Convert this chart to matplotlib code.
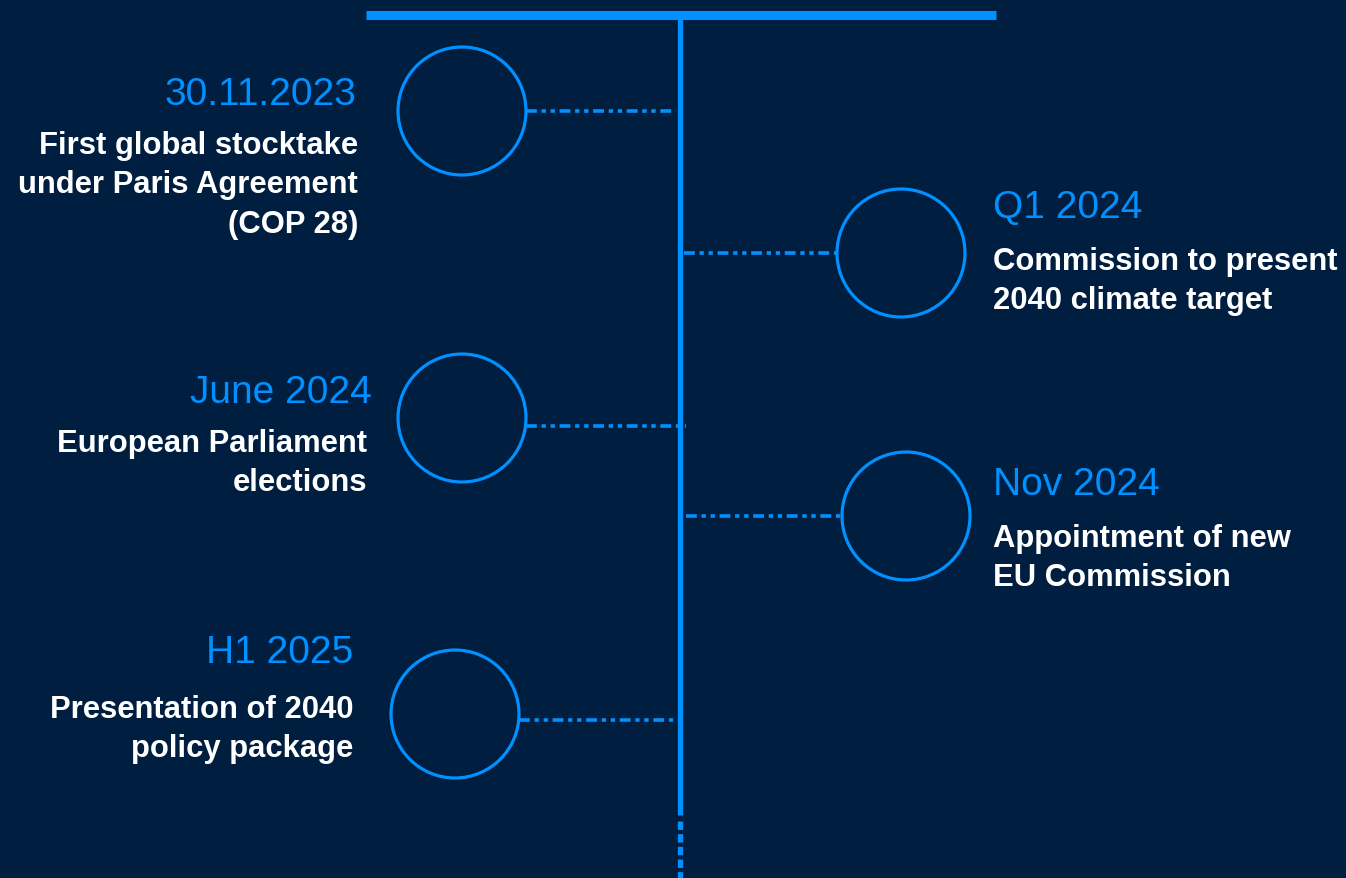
import matplotlib
matplotlib.use("Agg")
import matplotlib.pyplot as plt
from matplotlib.patches import Circle

# ---- data ----
dates = ["30.11.2023", "Q1 2024", "June 2024", "Nov 2024", "H1 2025"]
descriptions = [
    "First global stocktake\nunder Paris Agreement\n(COP 28)",
    "Commission to present\n2040 climate target",
    "European Parliament\nelections",
    "Appointment of new\nEU Commission",
    "Presentation of 2040\npolicy package",
]
sides = ["left", "right", "left", "right", "left"]

# ---- layout (pixel coordinates) ----
circle_x = [462, 901, 462, 906, 455]
circle_y = [112, 254, 419, 517, 715]
conn_y = [112, 254, 427, 517, 721]
conn_axis_x = [676, 684, 686, 686, 680]
title_x = [356, 993, 372, 993, 353]
title_base = [105, 218, 403, 495, 663]
desc_x = [358, 993, 367, 993, 353]
desc_base = [154, 270, 452, 547, 718]
radius = 64
line_step = 39.5

BG = "#001e3f"
BLUE = "#0090ff"
W, H = 1346, 879

plt.rcParams["font.family"] = ["Liberation Sans", "DejaVu Sans"]
fig = plt.figure(figsize=(W / 100, H / 100), dpi=100, facecolor=BG)
ax = fig.add_axes([0, 0, 1, 1])
ax.set_facecolor(BG)
ax.set_xlim(0, W)
ax.set_ylim(H, 0)
ax.axis("off")

# top bar and axis
ax.plot([366, 996], [15.5, 15.5], color=BLUE, lw=6.5, solid_capstyle="butt")
ax.plot([680, 680], [15, 816], color=BLUE, lw=3.8, solid_capstyle="butt")
ax.plot([680, 680], [822, 879], color=BLUE, lw=3.8, linestyle=(0, (1.6, 0.8)),
        dash_capstyle="butt")

for i in range(len(dates)):
    cx, cy = circle_x[i], circle_y[i]
    ax.add_patch(Circle((cx, cy), radius, fill=False, edgecolor=BLUE, lw=2.3))
    if sides[i] == "left":
        x0, x1 = cx + radius, conn_axis_x[i]
        ha = "right"
    else:
        x0, x1 = conn_axis_x[i], cx - radius
        ha = "left"
    ax.plot([x0, x1], [conn_y[i], conn_y[i]], color=BLUE, lw=2.6,
            linestyle=(0, (3, 1.3, 1.2, 1.3, 1.2, 1.3)), dash_capstyle="butt")
    ax.text(title_x[i], title_base[i], dates[i], ha=ha, va="baseline",
            color=BLUE, fontsize=28)
    for j, line in enumerate(descriptions[i].split("\n")):
        ax.text(desc_x[i], desc_base[i] + j * line_step, line, ha=ha,
                va="baseline", color="white", fontsize=22.3, fontweight="bold")

fig.savefig("out.png", dpi=100, facecolor=BG)
